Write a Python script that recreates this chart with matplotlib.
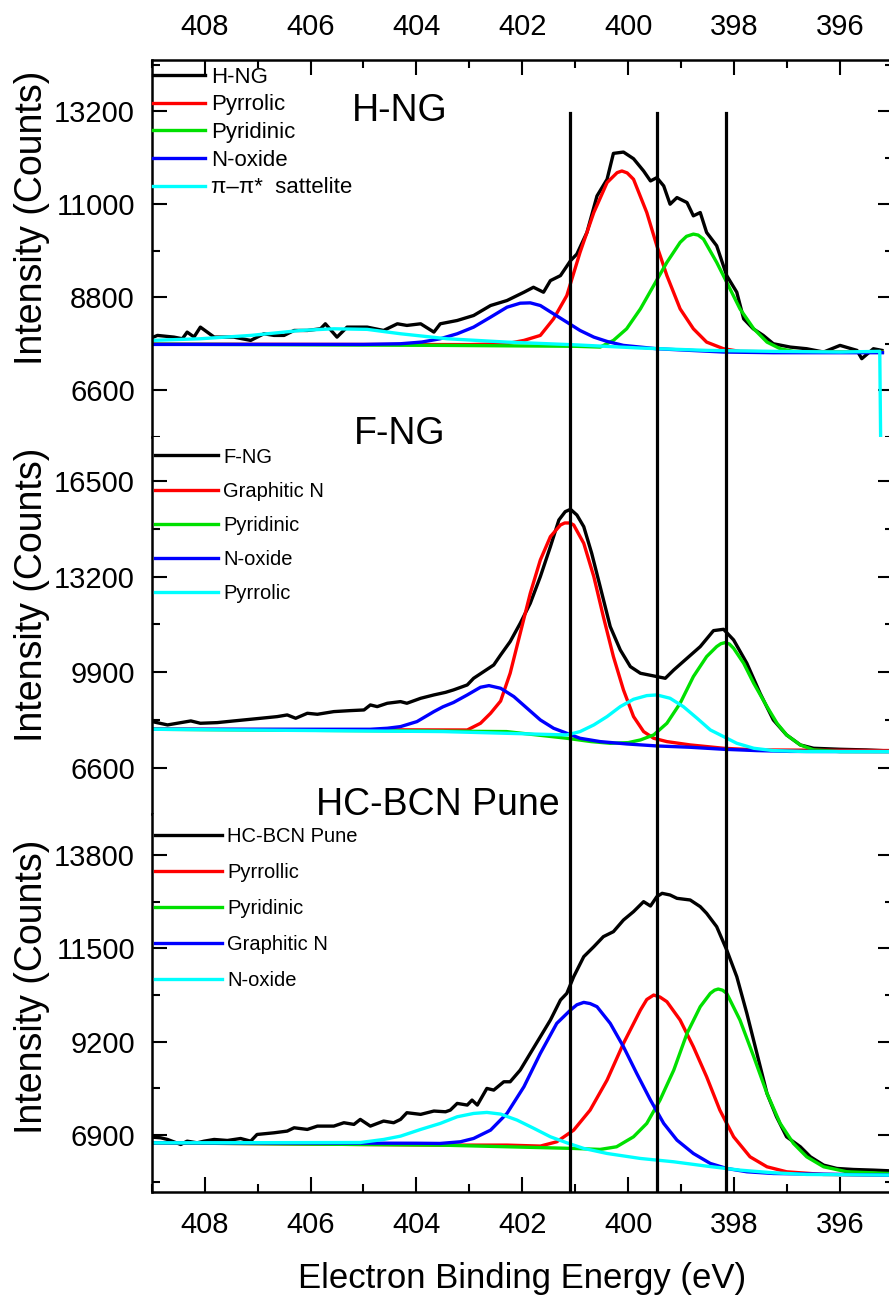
import matplotlib
matplotlib.use('Agg')
import matplotlib.pyplot as plt
from matplotlib.ticker import MultipleLocator

plt.rcParams['font.family'] = ['Liberation Sans', 'DejaVu Sans']

# ---- H-NG panel (binding energy in eV, intensity in counts) ----
hng_x = [409.0, 408.89, 408.58, 408.42, 408.33, 408.2, 408.08, 407.82, 407.45, 407.13, 406.88, 406.69,
         406.5, 406.31, 406.06, 405.81, 405.72, 405.5, 405.31, 404.93, 404.62, 404.36, 404.18, 403.92,
         403.67, 403.55, 403.39, 403.23, 402.92, 402.6, 402.29, 401.97, 401.79, 401.6, 401.47, 401.28,
         401.09, 400.97, 400.78, 400.59, 400.4, 400.28, 400.09, 399.9, 399.71, 399.58, 399.46, 399.33,
         399.21, 399.08, 398.89, 398.77, 398.64, 398.52, 398.33, 398.14, 397.95, 397.82, 397.64, 397.45,
         397.26, 396.94, 396.63, 396.31, 396.0, 395.68, 395.59, 395.37, 395.21]
hng_y = [7840, 7897, 7857, 7818, 7975, 7860, 8093, 7857, 7857, 7779, 7936, 7897,
         7897, 8014, 8014, 8054, 8172, 7857, 8093, 8093, 8014, 8172, 8133, 8172,
         7975, 8172, 8211, 8250, 8368, 8604, 8722, 8918, 9036, 8918, 9193, 9311,
         9664, 9821, 10332, 11196, 11589, 12202, 12233, 12076, 11786, 11550, 11628, 11432,
         11000, 11157, 11039, 10725, 10803, 10332, 10018, 9311, 8918, 8289, 8054, 7897,
         7700, 7621, 7582, 7504, 7661, 7543, 7347, 7582, 7543]

hng_pyrrolic_x = [409.0, 403.0, 402.3, 401.97, 401.66, 401.41, 401.16, 400.91, 400.65, 400.4, 400.21,
                  400.12, 400.02, 399.9, 399.65, 399.46, 399.27, 399.02, 398.77, 398.52, 398.2, 397.89,
                  397.0, 395.2]
hng_pyrrolic_y = [7690, 7680, 7700, 7779, 7897, 8289, 8839, 9861, 10804, 11511, 11746,
                  11786, 11740, 11589, 10804, 10018, 9311, 8525, 8054, 7739, 7582, 7519,
                  7505, 7500]

hng_pyridinic_x = [409.0, 403.5, 401.0, 400.53, 400.28, 400.03, 399.77, 399.52, 399.27, 399.02, 398.9,
                   398.77, 398.68, 398.58, 398.33, 398.14, 397.89, 397.63, 397.38, 397.13, 396.88, 396.63,
                   395.2]
hng_pyridinic_y = [7690, 7661, 7640, 7621, 7779, 8054, 8525, 9075, 9625, 10097, 10240,
                   10293, 10270, 10175, 9625, 9154, 8525, 8054, 7739, 7582, 7519, 7504,
                   7500]

hng_noxide_x = [409.0, 405.0, 404.3, 403.9, 403.55, 403.23, 402.92, 402.6, 402.29, 402.04, 401.85, 401.66,
                401.41, 401.16, 400.91, 400.65, 400.4, 400.09, 399.46, 398.83, 398.2, 397.26, 395.2]
hng_noxide_y = [7684, 7684, 7700, 7740, 7818, 7936, 8093, 8329, 8564, 8659, 8667, 8604,
                8407, 8211, 8014, 7857, 7755, 7661, 7582, 7543, 7504, 7488, 7488]

hng_sat_x = [409.0, 408.08, 407.13, 406.19, 405.56, 404.93, 404.3, 403.42, 402.29, 401.03, 399.77,
             398.52, 397.26, 396.0, 395.25, 395.19]
hng_sat_y = [7779, 7818, 7897, 8014, 8054, 8040, 7936, 7818, 7739, 7676, 7598,
             7543, 7520, 7504, 7520, 0]

# ---- F-NG panel ----
fng_x = [408.99, 408.7, 408.26, 408.08, 407.76, 407.45, 407.26, 406.94, 406.63, 406.44, 406.28, 406.06,
         405.87, 405.56, 405.25, 404.99, 404.87, 404.74, 404.55, 404.3, 404.18, 403.92, 403.67, 403.45,
         403.3, 403.04, 402.92, 402.73, 402.54, 402.41, 402.23, 402.04, 401.85, 401.66, 401.47, 401.31,
         401.19, 401.09, 400.97, 400.84, 400.69, 400.53, 400.34, 400.15, 399.96, 399.77, 399.52, 399.3,
         399.14, 398.89, 398.64, 398.39, 398.2, 398.01, 397.76, 397.51, 397.26, 397.01, 396.75, 396.5,
         396.0, 395.5, 395.08]
fng_y = [8190, 8075, 8213, 8132, 8155, 8213, 8247, 8305, 8362, 8420, 8305, 8477,
         8443, 8535, 8569, 8592, 8765, 8707, 8823, 8880, 8823, 8995, 9111, 9200,
         9284, 9456, 9686, 9916, 10146, 10492, 10952, 11585, 12276, 13197, 14232, 15153,
         15441, 15522, 15326, 14923, 14002, 12851, 11470, 10664, 10089, 9859, 9767, 9686,
         9974, 10377, 10780, 11332, 11378, 11010, 10204, 9168, 8247, 7729, 7384, 7269,
         7234, 7211, 7177]

fng_graphitic_x = [409.0, 403.55, 403.04, 402.79, 402.6, 402.41, 402.23, 402.04, 401.85, 401.66, 401.47,
                   401.28, 401.2, 401.1, 401.03, 400.84, 400.65, 400.47, 400.28, 400.09, 399.9, 399.71,
                   399.52, 399.27, 398.83, 398.2, 397.57, 395.08]
fng_graphitic_y = [7925, 7902, 7900, 8132, 8477, 8900, 9859, 11240, 12621, 13772, 14578,
                   14981, 15050, 15050, 14981, 14348, 13197, 11815, 10434, 9283, 8363, 7845,
                   7614, 7499, 7384, 7269, 7211, 7190]

fng_pyridinic_x = [409.0, 402.3, 401.16, 400.7, 400.34, 400.0, 399.77, 399.52, 399.27, 399.02, 398.77,
                   398.52, 398.33, 398.25, 398.17, 398.09, 398.01, 397.82, 397.63, 397.38, 397.19, 397.01,
                   396.75, 396.5, 396.0, 395.08]
fng_pyridinic_y = [7925, 7845, 7614, 7499, 7441, 7464, 7556, 7729, 8132, 8823, 9744,
                   10434, 10780, 10880, 10918, 10870, 10722, 10204, 9513, 8708, 8132, 7729,
                   7384, 7211, 7154, 7154]

fng_noxide_x = [409.0, 404.87, 404.55, 404.3, 403.99, 403.67, 403.5, 403.3, 403.04, 402.79, 402.63,
                402.41, 402.16, 401.91, 401.66, 401.41, 401.16, 400.91, 400.53, 400.03, 399.46, 398.83,
                398.2, 397.57, 396.94, 395.08]
fng_noxide_y = [7925, 7925, 7960, 8017, 8190, 8535, 8700, 8850, 9111, 9376, 9433,
                9341, 9053, 8650, 8247, 7960, 7787, 7614, 7499, 7418, 7349, 7303,
                7234, 7188, 7160, 7154]

fng_pyrrolic_x = [409.0, 403.5, 401.16, 400.91, 400.65, 400.4, 400.15, 399.9, 399.65, 399.46, 399.21,
                  398.96, 398.7, 398.45, 398.2, 397.95, 397.63, 397.26, 396.63, 395.08]
fng_pyrrolic_y = [7925, 7845, 7729, 7845, 8075, 8363, 8708, 8961, 9088, 9111, 8996,
                  8708, 8305, 7902, 7672, 7441, 7269, 7188, 7154, 7154]

# ---- HC-BCN Pune panel ----
bcn_x = [408.99, 408.83, 408.7, 408.45, 408.33, 408.14, 408.01, 407.82, 407.57, 407.32, 407.13, 407.01,
         406.69, 406.44, 406.31, 406.06, 405.87, 405.56, 405.37, 405.18, 405.06, 404.87, 404.62, 404.43,
         404.3, 404.18, 403.92, 403.67, 403.45, 403.36, 403.23, 403.04, 402.95, 402.85, 402.67, 402.54,
         402.35, 402.23, 402.04, 401.85, 401.66, 401.47, 401.28, 401.16, 401.03, 400.84, 400.65, 400.47,
         400.28, 400.09, 399.9, 399.71, 399.58, 399.46, 399.36, 399.21, 399.08, 398.83, 398.64, 398.52,
         398.33, 398.14, 397.95, 397.76, 397.57, 397.38, 397.2, 397.01, 396.75, 396.56, 396.31, 396.06,
         395.75, 395.37, 395.08]
bcn_y = [6850, 6834, 6793, 6669, 6751, 6710, 6751, 6793, 6768, 6817, 6751, 6916,
         6957, 6999, 7081, 7040, 7122, 7122, 7205, 7164, 7287, 7122, 7246, 7205,
         7287, 7452, 7411, 7493, 7475, 7516, 7681, 7640, 7763, 7640, 8050, 8009,
         8214, 8214, 8502, 8913, 9323, 9734, 10227, 10391, 10802, 11295, 11541, 11788,
         11911, 12198, 12404, 12650, 12543, 12773, 12855, 12814, 12732, 12691, 12527, 12363,
         12034, 11459, 10802, 9898, 8913, 7927, 7352, 6859, 6613, 6366, 6161, 6079,
         6054, 6038, 6022]

bcn_pyrrollic_x = [409.0, 403.55, 402.29, 401.66, 401.35, 401.03, 400.72, 400.4, 400.09, 399.77, 399.65,
                   399.52, 399.4, 399.27, 399.02, 398.77, 398.52, 398.27, 398.01, 397.7, 397.38, 397.01,
                   396.31, 395.08]
bcn_pyrrollic_y = [6710, 6654, 6654, 6630, 6736, 7023, 7516, 8255, 9159, 9980, 10240,
                   10350, 10300, 10186, 9734, 9077, 8338, 7516, 6859, 6366, 6120, 5997,
                   5931, 5915]

bcn_pyridinic_x = [409.0, 403.55, 401.03, 400.53, 400.22, 399.9, 399.65, 399.4, 399.14, 398.89, 398.64,
                   398.45, 398.37, 398.3, 398.22, 398.14, 397.89, 397.63, 397.38, 397.13, 396.88, 396.63,
                   396.31, 395.87, 395.08]
bcn_pyridinic_y = [6710, 6654, 6572, 6548, 6613, 6859, 7188, 7763, 8502, 9405, 10063,
                   10391, 10470, 10498, 10470, 10391, 9734, 8831, 7927, 7188, 6695, 6366,
                   6120, 5997, 5955]

bcn_graphitic_x = [409.0, 404.0, 403.55, 403.17, 402.92, 402.6, 402.29, 401.97, 401.66, 401.35, 401.09,
                   400.97, 400.84, 400.72, 400.59, 400.34, 400.09, 399.84, 399.58, 399.33, 399.08, 398.77,
                   398.45, 398.14, 397.76, 397.26, 395.08]
bcn_graphitic_y = [6710, 6700, 6695, 6736, 6818, 7023, 7434, 8091, 8913, 9652, 9981,
                   10110, 10169, 10140, 10063, 9652, 9077, 8420, 7763, 7188, 6777, 6448,
                   6202, 6079, 5997, 5955, 5915]

bcn_noxide_x = [409.0, 405.06, 404.62, 404.3, 403.92, 403.55, 403.23, 402.92, 402.67, 402.41, 402.1,
                401.78, 401.47, 401.16, 400.84, 400.4, 399.77, 399.14, 398.52, 397.89, 397.26, 396.63,
                395.08]
bcn_noxide_y = [6710, 6718, 6793, 6875, 7040, 7188, 7352, 7434, 7459, 7418, 7270,
                7065, 6859, 6711, 6572, 6448, 6325, 6243, 6136, 6038, 5972, 5931,
                5915]

peak_lines = [401.1, 399.45, 398.15]

colors = ['black', '#ff0000', '#00e000', '#0000ff', '#00ffff']

panels = [
    {
        'title': 'H-NG',
        'curves': [(hng_x, hng_y, 'H-NG'),
                   (hng_pyrrolic_x, hng_pyrrolic_y, 'Pyrrolic'),
                   (hng_pyridinic_x, hng_pyridinic_y, 'Pyridinic'),
                   (hng_noxide_x, hng_noxide_y, 'N-oxide'),
                   (hng_sat_x, hng_sat_y, 'π–π*  sattelite')],
        'ylim': (5495, 14410), 'major': 2200, 'minor': 1100,
        'pos': [0.1706, 0.6636, 0.8339, 0.2902],
        'title_xy': (0.335, 0.839), 'ylabel_y': 0.582,
        'leg': dict(bbox=(0.0013, 0.982), size=16, hl=2.36, ls=0.30),
        'vmax': 0.86,
    },
    {
        'title': 'F-NG',
        'curves': [(fng_x, fng_y, 'F-NG'),
                   (fng_graphitic_x, fng_graphitic_y, 'Graphitic N'),
                   (fng_pyridinic_x, fng_pyridinic_y, 'Pyridinic'),
                   (fng_noxide_x, fng_noxide_y, 'N-oxide'),
                   (fng_pyrrolic_x, fng_pyrrolic_y, 'Pyrrolic')],
        'ylim': (5000, 18020), 'major': 3300, 'minor': 1650,
        'pos': [0.1706, 0.3734, 0.8339, 0.2902],
        'title_xy': (0.335, 0.981), 'ylabel_y': 0.581,
        'leg': dict(bbox=(0.0045, 0.972), size=14.5, hl=3.13, ls=0.75),
        'vmax': 1.0,
    },
    {
        'title': 'HC-BCN Pune',
        'curves': [(bcn_x, bcn_y, 'HC-BCN Pune'),
                   (bcn_pyrrollic_x, bcn_pyrrollic_y, 'Pyrrollic'),
                   (bcn_pyridinic_x, bcn_pyridinic_y, 'Pyridinic'),
                   (bcn_graphitic_x, bcn_graphitic_y, 'Graphitic N'),
                   (bcn_noxide_x, bcn_noxide_y, 'N-oxide')],
        'ylim': (5500, 14810), 'major': 2300, 'minor': 1150,
        'pos': [0.1706, 0.0824, 0.8339, 0.2910],
        'title_xy': (0.386, 0.997), 'ylabel_y': 0.542,
        'leg': dict(bbox=(0.0045, 0.966), size=14.5, hl=3.33, ls=0.85),
        'vmax': 1.0,
    },
]

fig = plt.figure(figsize=(8.89, 12.99), dpi=100)

axes = []
for i, p in enumerate(panels):
    ax = fig.add_axes(p['pos'])
    axes.append(ax)
    for (x, y, label), c in zip(p['curves'], colors):
        ax.plot(x, y, color=c, lw=2.4, label=label)
    for xv in peak_lines:
        ax.axvline(xv, ymin=0, ymax=p['vmax'], color='black', lw=2.3, zorder=5)

    ax.set_xlim(409, 395)
    ax.set_ylim(*p['ylim'])
    ax.xaxis.set_major_locator(MultipleLocator(2))
    ax.xaxis.set_minor_locator(MultipleLocator(1))
    ax.yaxis.set_major_locator(MultipleLocator(p['major']))
    ax.yaxis.set_minor_locator(MultipleLocator(p['minor']))

    for s in ax.spines.values():
        s.set_linewidth(1.8)
    ax.spines['top'].set_visible(i == 0)
    ax.spines['bottom'].set_visible(i == 2)

    ax.tick_params(axis='both', which='both', direction='in', width=1.5, labelsize=21)
    ax.tick_params(axis='both', which='major', length=10.8)
    ax.tick_params(axis='both', which='minor', length=5.8)
    ax.tick_params(axis='y', which='both', left=True, right=True, labelleft=True,
                   labelright=False, pad=12)
    ax.tick_params(axis='x', which='both', top=(i == 0), bottom=(i == 2),
                   labeltop=(i == 0), labelbottom=(i == 2), pad=13.5)

    ax.set_ylabel('Intensity (Counts)', fontsize=27)
    ax.yaxis.set_label_coords(-0.137, p['ylabel_y'])

    tx, ty = p['title_xy']
    ax.text(tx, ty, p['title'], transform=ax.transAxes, ha='center', va='baseline', fontsize=27)

    lg = p['leg']
    leg = ax.legend(loc='upper left', bbox_to_anchor=lg['bbox'], frameon=False,
                    fontsize=lg['size'], handlelength=lg['hl'], handletextpad=0.27,
                    labelspacing=lg['ls'], borderpad=0, borderaxespad=0)
    for line in leg.get_lines():
        line.set_linewidth(2.4)

axes[2].set_xlabel('Electron Binding Energy (eV)', fontsize=25)
axes[2].xaxis.set_label_coords(0.5, -0.186)

fig.savefig('out.png', dpi=100)
